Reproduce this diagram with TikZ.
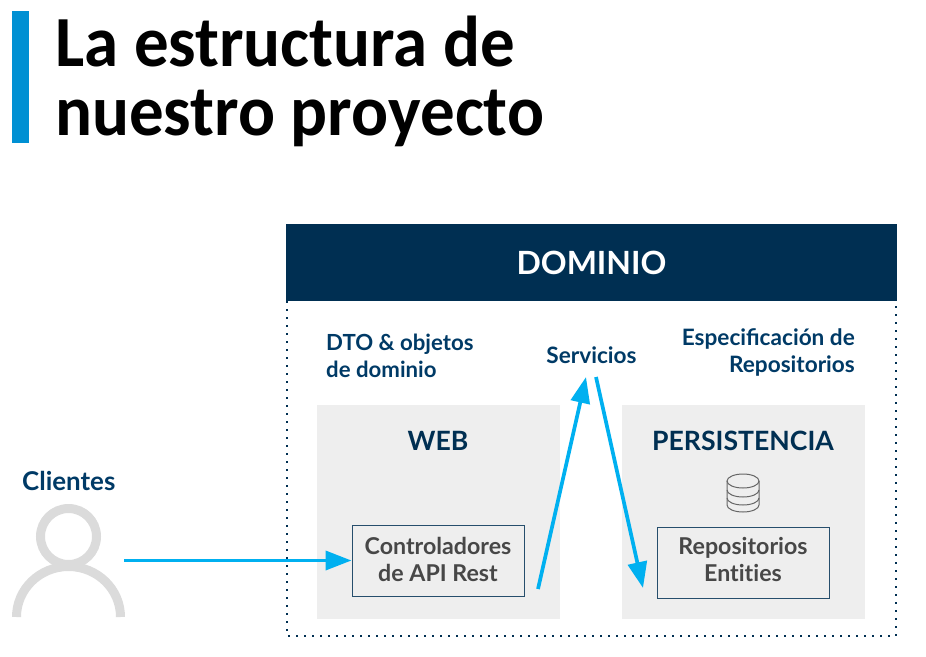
\documentclass[tikz,border=0pt]{standalone}
\usepackage{fontspec}
\setmainfont{Lato}
\newfontfamily\titlefont[FakeStretch=0.958]{Carlito}
\usepackage{xcolor}
\usetikzlibrary{positioning,arrows.meta}
\definecolor{navy}{HTML}{002F52}
\definecolor{labelblue}{HTML}{003A66}
\definecolor{barblue}{HTML}{0090D3}
\definecolor{flecha}{HTML}{00B0F0}
\definecolor{panel}{HTML}{EEEEEE}
\definecolor{iconline}{HTML}{666666}
\tikzset{
  lab/.style={font=\fontsize{22.6}{27}\selectfont\bfseries,text=labelblue,inner sep=0pt},
  head/.style={font=\fontsize{26.6}{32}\selectfont\bfseries,text=navy,inner sep=0pt},
  title/.style={font=\titlefont\fontsize{72}{69}\selectfont\bfseries,anchor=base west,inner sep=0pt},
  panelbox/.style={fill=panel,draw=none,minimum width=243pt,minimum height=214pt,inner sep=0pt},
  innerbox/.style={draw=navy!85,line width=1pt,minimum width=172pt,minimum height=71pt,inner sep=0pt},
  innertext/.style={align=center,inner sep=0pt,font=\fontsize{23.2}{27}\selectfont\bfseries,text=black!72},
  flow/.style={flecha,line width=3.7pt,-{Triangle[length=26pt,width=19pt]}},
}
\begin{document}
\begin{tikzpicture}[x=1pt,y=-1pt]
    \useasboundingbox (0,0) rectangle (926,656);
    \fill[barblue] (12,11) rectangle (29,143);
    \node[title] (T1) at (55,66) {La estructura de};
    \node[title] (T2) at (55,135) {nuestro proyecto};
    % dominio
    \node[fill=navy,minimum width=611pt,minimum height=77pt,inner sep=0pt,text=white,
      font=\fontsize{32}{38}\selectfont\bfseries] (DOM) at (591.5,262.5) {DOMINIO};
    \coordinate (BL) at (287,636);
    \coordinate (BR) at (896,636);
    \draw[navy,line width=2.2pt,dash pattern=on 2pt off 6pt] (DOM.south west -| BL) -- (BL) -- (BR) -- (DOM.south east -| BR);
    % panels
    \node[panelbox] (WEBP) at (438.5,512) {};
    \node[panelbox] (PERP) at (743.5,512) {};
    \node[head] (WEB) at (438,441) {WEB};
    \node[head] (PER) at (743,441) {PERSISTENCIA};
    \node[innerbox] (CTRL) at (438,560.5) {};
    \node[innerbox] (REPO) at (743,562.5) {};
    \node[innertext] (CTRLT) at (438,559.5) {Controladores\\de API Rest};
    \node[innertext] (REPOT) at (743,559.5) {Repositorios\\Ent\kern0pt it\kern0pt ies};
    % labels
    \node[lab,align=left,anchor=west,font=\fontsize{22.2}{27}\selectfont\bfseries] (DTO) at (326,355.5) {DTO \& objetos\\de dominio};
    \node[lab] (SERV) at (591.5,355) {Servicios};
    \node[lab,align=right,anchor=east] (ESP) at (855,352.5) {Especificación de\\Repositorios};
    \node[lab,anchor=west,font=\fontsize{25.9}{30}\selectfont\bfseries] (CLI) at (22,481) {Clientes};
    % base de datos
    \draw[iconline,line width=1pt] (727,481) -- (727,505) arc[start angle=180,end angle=0,x radius=16,y radius=7] -- (759,481);
    \draw[iconline,line width=1pt] (743,481) ellipse[x radius=16,y radius=7];
    \foreach \yy in {490,498} {
      \draw[iconline,line width=1pt] (727,\yy) arc[start angle=180,end angle=0,x radius=16,y radius=7];
    }
    % cliente
    \draw[panel!92!black,line width=9pt] (68.5,536.5) circle[radius=28];
    \draw[panel!92!black,line width=9pt] (16.5,617) arc[start angle=180,end angle=360,x radius=52,y radius=50.5];
    % flechas
    \coordinate (U) at (124,560.5);
    \coordinate (A) at (538,589);
    \coordinate (B) at (586,377);
    \coordinate (C) at (596,377);
    \coordinate (D) at (643,588);
    \draw[flow] (U) -- (CTRL.west);
    \draw[flow] (A) -- (B);
    \draw[flow] (C) -- (D);
\end{tikzpicture}
\end{document}
